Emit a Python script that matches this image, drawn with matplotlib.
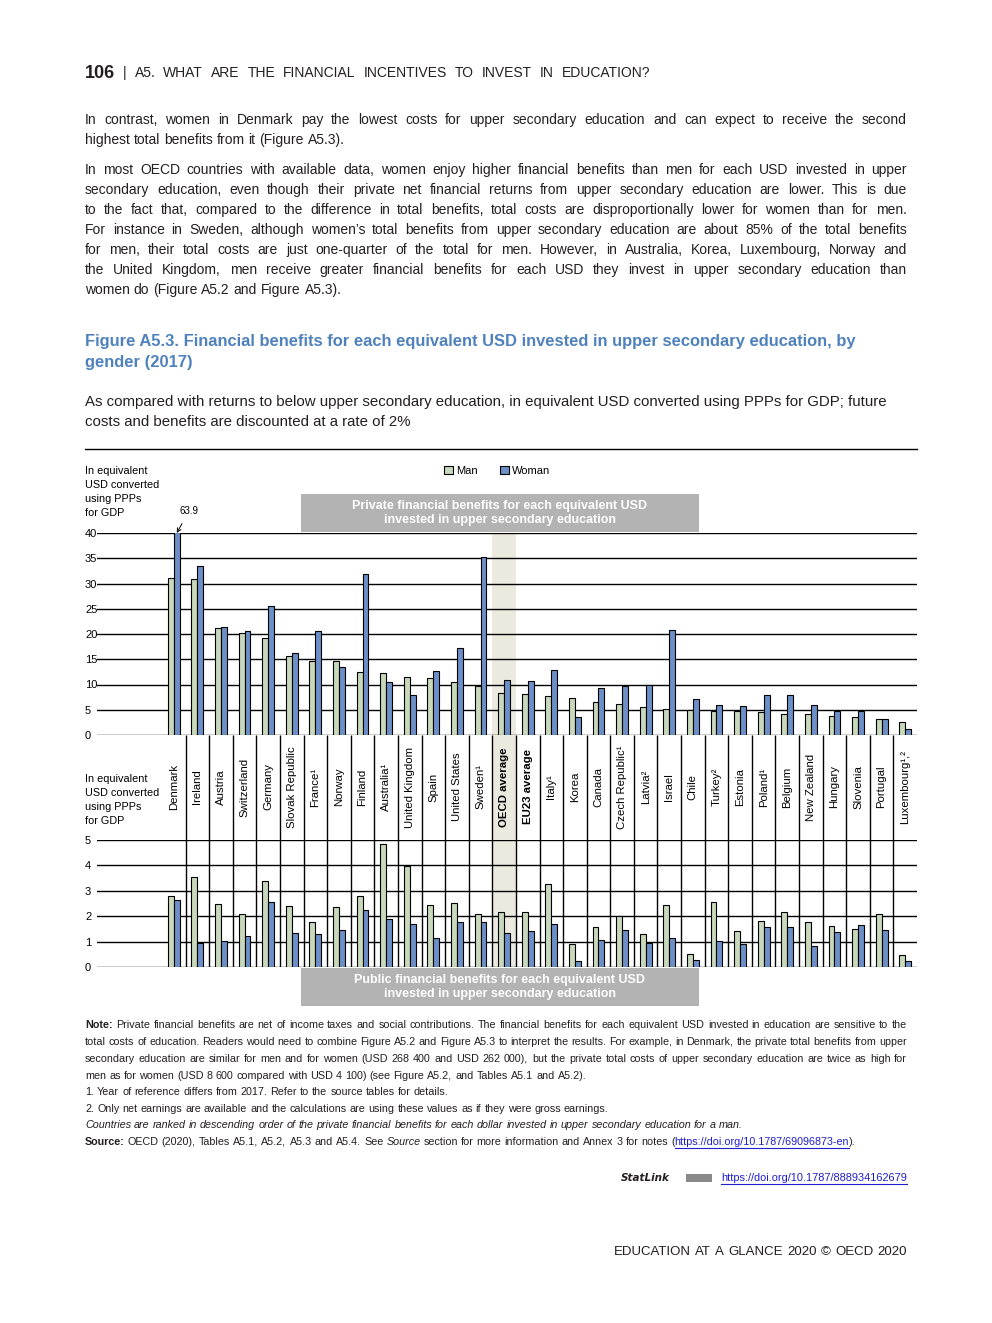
import matplotlib
matplotlib.use('Agg')
import matplotlib.pyplot as plt
from matplotlib.lines import Line2D
from matplotlib.patches import Rectangle

countries = ['Denmark', 'Ireland', 'Austria', 'Switzerland', 'Germany', 'Slovak Republic',
             'France¹', 'Norway', 'Finland', 'Australia¹', 'United Kingdom', 'Spain',
             'United States', 'Sweden¹', 'OECD average', 'EU23 average', 'Italy¹', 'Korea',
             'Canada', 'Czech Republic¹', 'Latvia²', 'Israel', 'Chile', 'Turkey²', 'Estonia',
             'Poland¹', 'Belgium', 'New Zealand', 'Hungary', 'Slovenia', 'Portugal',
             'Luxembourg¹,²']
private_man = [31.0, 30.8, 21.2, 20.1, 19.2, 15.6, 14.6, 14.6, 12.4, 12.2, 11.4, 11.2, 10.4, 9.8,
               8.3, 8.1, 7.7, 7.3, 6.5, 6.1, 5.5, 5.1, 4.9, 4.7, 4.7, 4.5, 4.1, 4.1, 3.7, 3.5,
               3.1, 2.5]
private_woman = [63.9, 33.4, 21.3, 20.5, 25.5, 16.2, 20.5, 13.4, 31.8, 10.4, 8.0, 12.6, 17.2, 35.2,
                 10.8, 10.6, 12.8, 3.5, 9.4, 9.8, 10.0, 20.7, 7.1, 5.9, 5.7, 7.9, 7.9, 5.9, 4.7,
                 4.7, 3.1, 1.1]
public_man = [2.80, 3.55, 2.49, 2.09, 3.39, 2.41, 1.78, 2.37, 2.80, 4.86, 3.99, 2.45, 2.53, 2.09,
              2.17, 2.17, 3.28, 0.91, 1.58, 2.01, 1.30, 2.45, 0.51, 2.57, 1.42, 1.82, 2.17, 1.78,
              1.62, 1.50, 2.09, 0.47]
public_woman = [2.64, 0.95, 1.03, 1.22, 2.57, 1.34, 1.30, 1.46, 2.25, 1.89, 1.70, 1.14, 1.78, 1.78,
                1.34, 1.42, 1.70, 0.24, 1.07, 1.46, 0.95, 1.14, 0.28, 1.03, 0.91, 1.58, 1.58, 0.83,
                1.38, 1.66, 1.46, 0.24]
private_ticks = [0, 5, 10, 15, 20, 25, 30, 35, 40]
public_ticks = [0, 1, 2, 3, 4, 5]
highlight = ['OECD average', 'EU23 average']

W, H = 992, 1323
FONT = ['Liberation Sans', 'DejaVu Sans']
TXT = '#231f20'
BLUE_T = '#4f81bd'
C_MAN = '#c8d8bc'
C_WOMAN = '#6b8fc6'
BEIGE = '#ece9df'
GREYBOX = '#b3b3b3'
LINK = '#1f1fcc'


def fx(px):
    return px / W


def fy(py):
    return 1 - py / H


fig = plt.figure(figsize=(W / 100, H / 100), dpi=100)
R = fig.canvas.get_renderer()


def measure(s, size, **kw):
    t = fig.text(0, 0, s, fontsize=size, family=FONT, **kw)
    w = t.get_window_extent(R).width
    t.remove()
    return w


def fit(s, size, target, **kw):
    return size * target / measure(s, size, **kw)


def place(y, tokens, x0, x1=None, size=9.5, color=TXT, justify=False):
    """put words of one line side by side, optionally stretched to x1"""
    texts, unders, tight = [], [], []
    for word, kw in tokens:
        kw = dict(kw)
        unders.append(kw.pop('underline', False))
        tight.append(kw.pop('tight', False))
        t = fig.text(0, fy(y), word, fontsize=kw.pop('fontsize', size), color=kw.pop('color', color),
                     family=kw.pop('family', FONT), va='center', **kw)
        texts.append(t)
    widths = [t.get_window_extent(R).width for t in texts]
    gap = measure('x x', size) - measure('xx', size)
    ngaps = len(texts) - 1 - sum(tight[1:])
    if justify and ngaps > 0:
        gap = (x1 - x0 - sum(widths)) / ngaps
    x = x0
    for k, (t, w, und) in enumerate(zip(texts, widths, unders)):
        if k > 0:
            x += 0 if tight[k] else gap
        t.set_x(fx(x))
        if und:
            fig.add_artist(Line2D([fx(x), fx(x + w)], [fy(y + size * 0.75), fy(y + size * 0.75)],
                                  color=t.get_color(), lw=0.8))
        x += w
    return texts


def words(s, **kw):
    return [(w, kw) for w in s.split(' ')]


# ---- page header and text
place(73, [('106', dict(fontsize=13, fontweight='bold'))] + words('| A5. WHAT ARE THE FINANCIAL INCENTIVES TO INVEST IN EDUCATION?'),
      85, 650, size=10, justify=True)

para = [
    (120, 'In contrast, women in Denmark pay the lowest costs for upper secondary education and can expect to receive the second', True),
    (140, 'highest total benefits from it (Figure A5.3).', False),
    (170, 'In most OECD countries with available data, women enjoy higher financial benefits than men for each USD invested in upper', True),
    (190, 'secondary education, even though their private net financial returns from upper secondary education are lower. This is due', True),
    (210, 'to the fact that, compared to the difference in total benefits, total costs are disproportionally lower for women than for men.', True),
    (230, 'For instance in Sweden, although women’s total benefits from upper secondary education are about 85% of the total benefits', True),
    (250, 'for men, their total costs are just one-quarter of the total for men. However, in Australia, Korea, Luxembourg, Norway and', True),
    (270, 'the United Kingdom, men receive greater financial benefits for each USD they invest in upper secondary education than', True),
    (290, 'women do (Figure A5.2 and Figure A5.3).', False),
]
for y, line, just in para:
    place(y, words(line), 85, 907, size=10, justify=just)

title1 = 'Figure A5.3. Financial benefits for each equivalent USD invested in upper secondary education, by'
ts = fit(title1, 13, 852 - 85, fontweight='bold')
fig.text(fx(85), fy(341), title1 + '\ngender (2017)', fontsize=ts, fontweight='bold', color=BLUE_T,
         family=FONT, va='center', linespacing=1.45)
fig.texts[-1].set_y(fy(352))
sub1 = 'As compared with returns to below upper secondary education, in equivalent USD converted using PPPs for GDP; future'
ss = fit(sub1, 12, 887 - 85)
fig.text(fx(85), fy(412), sub1 + '\ncosts and benefits are discounted at a rate of 2%', fontsize=ss,
         color=TXT, family=FONT, va='center', linespacing=1.55)
fig.add_artist(Line2D([fx(85), fx(917)], [fy(449), fy(449)], color='black', lw=1))

# ---- chart axes
left, right = 97, 917
col0 = 162
colw = (917 - 162) / len(countries)
xlo = -0.5 - (col0 - left) / colw
xhi = len(countries) - 0.5
idx = list(range(len(countries)))
bw = 0.25

bg = fig.add_axes([fx(left), fy(967), (right - left) / W, (967 - 533) / H], zorder=0)
bg.set_xlim(xlo, xhi)
bg.set_ylim(967, 533)
bg.axis('off')
oecd = countries.index('OECD average')
bg.add_patch(Rectangle((oecd - 0.5, 533), 1, 967 - 533, color=BEIGE, lw=0))
bg.vlines([i + 0.5 for i in idx[:-1]], 735, 967, color='black', lw=1)
for i, c in enumerate(countries):
    bg.text(i, 787, c, rotation=90, ha='center', va='center', fontsize=8.2, family=FONT,
            color='black', fontweight='bold' if c in highlight else 'normal')

ax1 = fig.add_axes([fx(left), fy(735), (right - left) / W, (735 - 533) / H], zorder=1)
ax2 = fig.add_axes([fx(left), fy(967), (right - left) / W, (967 - 840) / H], zorder=1)

for ax, m, w, ticks in [(ax1, private_man, private_woman, private_ticks),
                        (ax2, public_man, public_woman, public_ticks)]:
    ax.patch.set_alpha(0)
    ax.bar([i - bw / 2 for i in idx], m, bw, color=C_MAN, edgecolor='black', lw=0.8,
           label='Man', zorder=3)
    ax.bar([i + bw / 2 for i in idx], w, bw, color=C_WOMAN, edgecolor='black', lw=0.8,
           label='Woman', zorder=3)
    ax.set_xlim(xlo, xhi)
    ax.set_ylim(ticks[0], ticks[-1])
    ax.set_yticks(ticks)
    ax.set_xticks([])
    for t in ticks:
        ax.axhline(t, color='black', lw=1, zorder=2)
    for s in ax.spines.values():
        s.set_visible(False)
    ax.tick_params(axis='y', length=0, pad=(left - 85) * 0.72, labelsize=8, labelcolor='black')
    for lbl in ax.get_yticklabels():
        lbl.set_horizontalalignment('left')
        lbl.set_family(FONT)

ax1.annotate('63.9', xy=(bw / 2, 40), xytext=(-0.5 + (189 - col0) / colw, (735 - 511) / 5.05),
             textcoords='data', ha='center', va='center', fontsize=7, family=FONT,
             annotation_clip=False,
             arrowprops=dict(arrowstyle='->', color='black', lw=0.7, shrinkA=4, shrinkB=0))

h, l = ax1.get_legend_handles_labels()
fig.legend(h, l, loc='center', bbox_to_anchor=(fx(497), fy(471)), ncol=2, frameon=False,
           handlelength=0.8, handleheight=0.8, handletextpad=0.3, columnspacing=2.0,
           prop={'family': FONT, 'size': 8})

for y, label in [(472, 'In equivalent\nUSD converted\nusing PPPs\nfor GDP'),
                 (780, 'In equivalent\nUSD converted\nusing PPPs\nfor GDP')]:
    fig.text(fx(85), fy(y - 6), label, ha='left', va='top', fontsize=7.8, family=FONT,
             linespacing=1.52, color='black')

for y0, txt in [(494, 'Private financial benefits for each equivalent USD\ninvested in upper secondary education'),
                (968, 'Public financial benefits for each equivalent USD\ninvested in upper secondary education')]:
    fig.add_artist(Rectangle((fx(301), fy(y0 + 38)), (699 - 301) / W, 38 / H, color=GREYBOX,
                             lw=0, transform=fig.transFigure, zorder=4))
    fig.text(fx(500), fy(y0 + 19), txt, ha='center', va='center', color='white', fontsize=9,
             fontweight='bold', family=FONT, linespacing=1.15, zorder=5)

# ---- notes
note6 = '2. Only net earnings are available and the calculations are using these values as if they were gross earnings.'
NS = fit(note6, 8, 610 - 85)
place(1025, [('Note:', dict(fontweight='bold'))] + words('Private financial benefits are net of income taxes and social contributions. The financial benefits for each equivalent USD invested in education are sensitive to the'),
      85, 907, size=NS, justify=True)
place(1042, words('total costs of education. Readers would need to combine Figure A5.2 and Figure A5.3 to interpret the results. For example, in Denmark, the private total benefits from upper'),
      85, 907, size=NS, justify=True)
place(1059, words('secondary education are similar for men and for women (USD 268 400 and USD 262 000), but the private total costs of upper secondary education are twice as high for'),
      85, 907, size=NS, justify=True)
place(1076, words('men as for women (USD 8 600 compared with USD 4 100) (see Figure A5.2, and Tables A5.1 and A5.2).'),
      85, size=NS)
place(1092, words('1. Year of reference differs from 2017. Refer to the source tables for details.'),
      85, size=NS)
place(1109, words(note6), 85, size=NS)
place(1125, words('Countries are ranked in descending order of the private financial benefits for each dollar invested in upper secondary education for a man.', style='italic'),
      85, size=NS)
place(1142, [('Source:', dict(fontweight='bold'))] + words('OECD (2020), Tables A5.1, A5.2, A5.3 and A5.4. See')
      + [('Source', dict(style='italic'))] + words('section for more information and Annex 3 for notes')
      + [('(', {}), ('https://doi.org/10.1787/69096873-en', dict(color=LINK, underline=True, tight=True)),
         (').', dict(tight=True))],
      85, size=NS)

place(1178, [('StatLink', dict(fontweight='bold', style='italic', family=['DejaVu Sans'], fontsize=7.5))],
      621, size=NS)
fig.add_artist(Rectangle((fx(686), fy(1182)), 26 / W, 8 / H, color='#8a8a8a', lw=0,
                         transform=fig.transFigure))
place(1178, [('https://doi.org/10.1787/888934162679', dict(color=LINK, underline=True))],
      721, size=fit('https://doi.org/10.1787/888934162679', 8, 907 - 721))
place(1252, words('EDUCATION AT A GLANCE 2020 © OECD 2020'), 614, 907, size=9.5, justify=True)

fig.savefig('out.png', dpi=100)
